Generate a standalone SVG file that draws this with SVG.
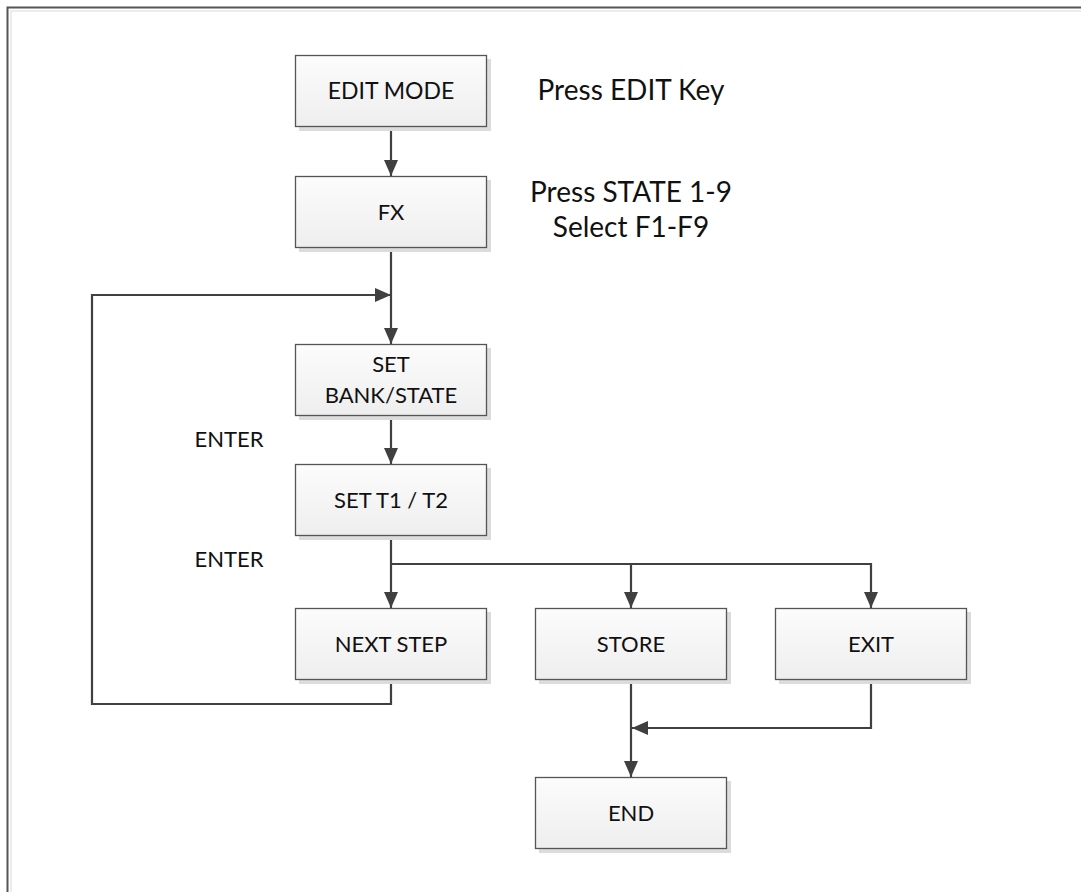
<svg xmlns="http://www.w3.org/2000/svg" width="1081" height="892" viewBox="0 0 1081 892">
<defs>
<linearGradient id="g" x1="0" y1="0" x2="0" y2="1">
<stop offset="0" stop-color="#fcfcfc"/>
<stop offset="1" stop-color="#eeeeee"/>
</linearGradient>
<marker id="ah" viewBox="0 0 16 14" refX="16" refY="7" markerWidth="16" markerHeight="14" markerUnits="userSpaceOnUse" orient="auto">
<path d="M0,0 L16,7 L0,14 Z" fill="#404040"/>
</marker>
<style>
.box{fill:url(#g);stroke:#555;stroke-width:1.3}
.sh{fill:#dcdcdc}
.t{font-family:Lato,"Open Sans","Liberation Sans",sans-serif;font-size:22px;fill:#111;text-anchor:middle}
.l{font-size:28px}
.c{fill:none;stroke:#404040;stroke-width:2.2}
</style>
</defs>
<rect x="0" y="0" width="1081" height="892" fill="#fff"/>
<path d="M7.5,892 V7.5 H1081" fill="none" stroke="#555" stroke-width="2"/>
<path d="M11,892 V11 H1081" fill="none" stroke="#e6e6e6" stroke-width="1.5"/>

<g id="connectors">
<path class="c" d="M391,127 V176" marker-end="url(#ah)"/>
<path class="c" d="M391,248 V344" marker-end="url(#ah)"/>
<path class="c" d="M391,416 V464" marker-end="url(#ah)"/>
<path class="c" d="M391,536 V608" marker-end="url(#ah)"/>
<path class="c" d="M391,564 H631 V608" marker-end="url(#ah)"/>
<path class="c" d="M631,564 H871 V608" marker-end="url(#ah)"/>
<path class="c" d="M391,680 V704 H92 V295 H391" marker-end="url(#ah)"/>
<path class="c" d="M631,680 V777" marker-end="url(#ah)"/>
<path class="c" d="M871,680 V728 H632" marker-end="url(#ah)"/>
</g>

<g id="edit-mode">
<rect class="sh" x="299" y="59" width="192" height="72"/>
<rect class="box" x="295.5" y="55.5" width="191" height="71"/>
<text class="t" x="391" y="99" style="font-size:23px">EDIT MODE</text>
</g>
<g id="fx">
<rect class="sh" x="299" y="180" width="192" height="72"/>
<rect class="box" x="295.5" y="176.5" width="191" height="71"/>
<text class="t" x="391" y="220">FX</text>
</g>
<g id="set-bank-state">
<rect class="sh" x="299" y="348" width="192" height="72"/>
<rect class="box" x="295.5" y="344.5" width="191" height="71"/>
<text class="t" x="391" y="372">SET</text>
<text class="t" x="391" y="403">BANK/STATE</text>
</g>
<g id="set-t1-t2">
<rect class="sh" x="299" y="468" width="192" height="72"/>
<rect class="box" x="295.5" y="464.5" width="191" height="71"/>
<text class="t" x="391" y="508">SET T1 / T2</text>
</g>
<g id="next-step">
<rect class="sh" x="299" y="612" width="192" height="72"/>
<rect class="box" x="295.5" y="608.5" width="191" height="71"/>
<text class="t" x="391" y="652">NEXT STEP</text>
</g>
<g id="store">
<rect class="sh" x="539" y="612" width="192" height="72"/>
<rect class="box" x="535.5" y="608.5" width="191" height="71"/>
<text class="t" x="631" y="652">STORE</text>
</g>
<g id="exit">
<rect class="sh" x="779" y="612" width="192" height="72"/>
<rect class="box" x="775.5" y="608.5" width="191" height="71"/>
<text class="t" x="871" y="652">EXIT</text>
</g>
<g id="end">
<rect class="sh" x="539" y="781" width="192" height="72"/>
<rect class="box" x="535.5" y="777.5" width="191" height="71"/>
<text class="t" x="631" y="821">END</text>
</g>

<g id="labels">
<text class="t l" x="631" y="100">Press EDIT Key</text>
<text class="t l" x="631" y="202">Press STATE 1-9</text>
<text class="t l" x="631" y="237">Select F1-F9</text>
<text class="t" x="229" y="447">ENTER</text>
<text class="t" x="229" y="567">ENTER</text>
</g>
</svg>
